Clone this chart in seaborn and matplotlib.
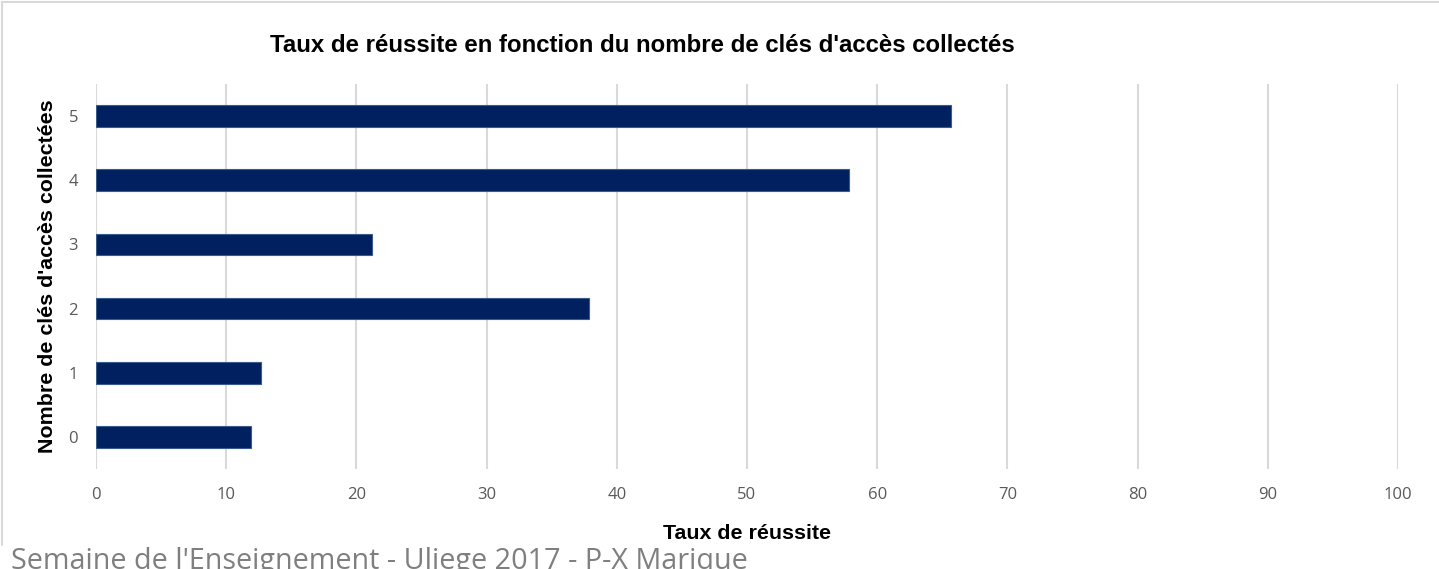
import matplotlib
matplotlib.use("Agg")
import matplotlib.pyplot as plt
import seaborn as sns
import pandas as pd
from matplotlib.lines import Line2D

categories = ["0", "1", "2", "3", "4", "5"]
values = [11.9, 12.7, 37.9, 21.2, 57.8, 65.7]
x_ticks = [0, 10, 20, 30, 40, 50, 60, 70, 80, 90, 100]

title = "Taux de réussite en fonction du nombre de clés d'accès collectés"
xlabel = "Taux de réussite"
ylabel = "Nombre de clés d'accès collectées"
footer = "Semaine de l'Enseignement - Uliege 2017 - P-X Marique"

sns.set_theme(style="white")
plt.rcParams["font.family"] = ["Liberation Sans", "DejaVu Sans"]

df = pd.DataFrame({"cat": categories, "val": values})
order = categories[::-1]

fig = plt.figure(figsize=(14.39, 5.69), dpi=100)
ax = fig.add_axes([96 / 1439, 1 - 469 / 569, (1398 - 96) / 1439, (469 - 84) / 569])

sns.barplot(data=df, x="val", y="cat", order=order, orient="h",
            color="#002060", width=0.34, saturation=1,
            edgecolor="#3a5a8c", linewidth=0.8, ax=ax, zorder=3)

ax.set_xlim(0, 100)
ax.set_xticks(x_ticks)
ax.set_xticklabels([str(t) for t in x_ticks])
for s in ax.spines.values():
    s.set_visible(False)
ax.grid(axis="x", color="#d9d9d9", linewidth=1.5, zorder=0)
ax.grid(axis="y", visible=False)
ax.tick_params(axis="both", length=0, labelcolor="#595959", labelsize=12)
ax.tick_params(axis="x", pad=13)
ax.tick_params(axis="y", pad=13)
for lab in ax.get_xticklabels() + ax.get_yticklabels():
    lab.set_family(["Open Sans", "DejaVu Sans"])

ax.set_xlabel(xlabel, fontsize=15.4, fontweight="bold", color="black", labelpad=15)
ax.set_ylabel(ylabel, fontsize=15.4, fontweight="bold", color="black", labelpad=8)

fig.text(642 / 1439, 1 - 46 / 569, title, ha="center", va="center",
         fontsize=17.3, fontweight="bold", color="black")

fig.text(11 / 1439, 1 - 569 / 569, footer, ha="left", va="baseline",
         fontsize=20.7, color="#7f7f7f", family=["Open Sans", "DejaVu Sans"])

fig.add_artist(Line2D([2 / 1439, 1], [1 - 2 / 569, 1 - 2 / 569],
                      transform=fig.transFigure, color="#d9d9d9", linewidth=1.5))
fig.add_artist(Line2D([2 / 1439, 2 / 1439], [1 - 2 / 569, 1 - 545 / 569],
                      transform=fig.transFigure, color="#d9d9d9", linewidth=1.5))

fig.savefig("out.png", dpi=100)
